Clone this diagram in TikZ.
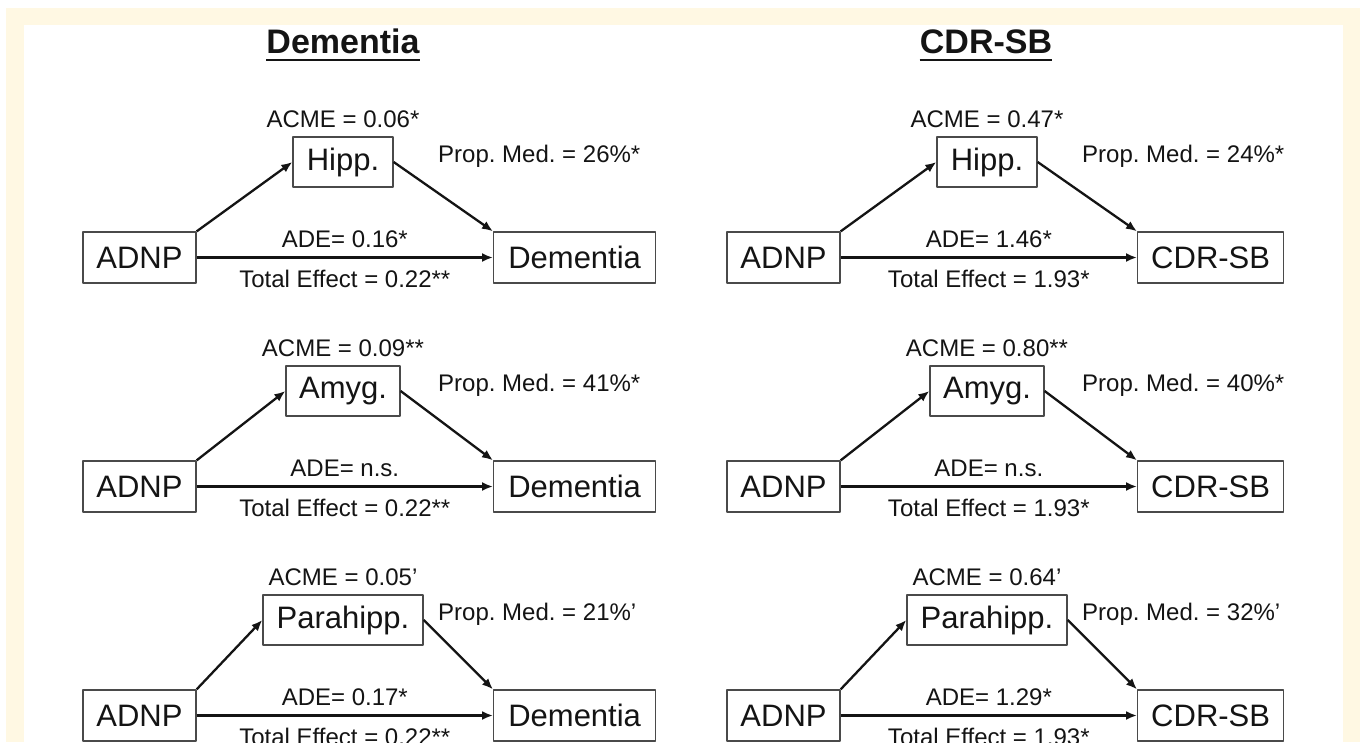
\documentclass[tikz,border=0pt]{standalone}
\usepackage{fontspec}
\setmainfont{Liberation Sans}
\frenchspacing
\usetikzlibrary{arrows.meta,positioning,calc}
\definecolor{creamc}{HTML}{FFF8E3}
\definecolor{inkc}{HTML}{141414}
\definecolor{boxgray}{HTML}{4A4A4A}

\begin{document}
\begin{tikzpicture}[
		x=1pt,
		y=-1pt,
		line join=round,
		box/.style={draw=boxgray,line width=1.3pt,inner sep=0pt,minimum height=51pt,text=inkc,font=\fontsize{31}{36}\selectfont},
		lbl/.style={inner sep=0pt,text=inkc,font=\fontsize{24}{28}\selectfont},
		ttl/.style={inner sep=0pt,text=inkc,font=\bfseries\fontsize{34}{40}\selectfont},
		arr/.style={draw=inkc,line width=2.3pt,-{Latex[length=11pt,width=9pt]}}
		]
		
		% page: cream frame round a white sheet
		\useasboundingbox (0,0) rectangle (1360,742);
		\fill[white] (0,0) rectangle (1360,742);
		\fill[creamc] (6,8) rectangle (1360,742);
		\fill[white] (24,25) rectangle (1343,742);
		
		% column headings
		\node[ttl, anchor=base] (ttl0) at (343,53) {Dementia};
		\node[ttl, anchor=base] (ttl1) at (986,53) {CDR-SB};
		\foreach \t in {ttl0,ttl1}{
			\draw[draw=inkc, line width=2.6pt] ([yshift=-7pt]\t.base west) -- ([yshift=-7pt]\t.base east);
		}
		
		%------------------------------
		% one mediation panel per column \c and row \r
		%------------------------------
		\foreach \c/\r/\med/\medw/\out/\outw/\acme/\prop/\ade/\tot in {
			0/0/Hipp./100/Dementia/162/0.06*/26\%*/0.16*/0.22**,
			0/1/Amyg./114/Dementia/162/0.09**/41\%*/n.s./0.22**,
			0/2/Parahipp./160/Dementia/162/0.05'/21\%'/0.17*/0.22**,
			1/0/Hipp./100/CDR-SB/146/0.47*/24\%*/1.46*/1.93*,
			1/1/Amyg./114/CDR-SB/146/0.80**/40\%*/n.s./1.93*,
			1/2/Parahipp./160/CDR-SB/146/0.64'/32\%'/1.29*/1.93*}{
			\pgfmathsetmacro{\dx}{644*\c}
			\pgfmathsetmacro{\dy}{229*\r}
			
			% boxes
			\node[box, minimum width=113pt] (adnp\c\r) at (\dx+139.5,\dy+257.5) {ADNP};
			\node[box, minimum width=\medw*1pt, minimum height=50pt] (med\c\r) at (\dx+343,\dy+162) {\med};
			\node[box, minimum width=\outw*1pt, anchor=west] (out\c\r) at (\dx+493,\dy+257.5) {\out};
			
			% labels
			\node[lbl, anchor=base] (acme\c\r) at ($(med\c\r.north)+(0,-9)$) {ACME = \acme};
			\node[lbl, anchor=base west] (prop\c\r) at (\dx+438,\dy+162) {Prop. Med. = \prop};
			\coordinate (mid\c\r) at ($(adnp\c\r.east)!.5!(out\c\r.west)$);
			\node[lbl, anchor=base] (ade\c\r) at ($(mid\c\r)+(0,-10)$) {ADE= \ade};
			\node[lbl, anchor=base] (tot\c\r) at ($(mid\c\r)+(0,30)$) {Total Effect = \tot};
			
			% paths
			\draw[arr] (adnp\c\r.north east) -- (med\c\r.west);
			\draw[arr] (med\c\r.east) -- (out\c\r.north west);
			\draw[arr] (adnp\c\r.east) -- (out\c\r.west);
		}
	\end{tikzpicture}
\end{document}
